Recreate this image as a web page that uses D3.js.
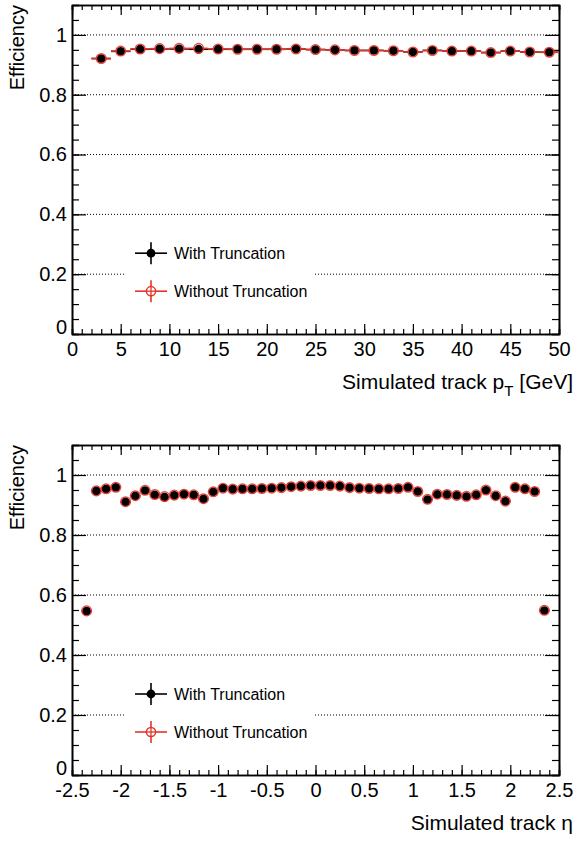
<!DOCTYPE html>
<html>
<head>
<meta charset="utf-8">
<script src="https://cdn.jsdelivr.net/npm/d3@7"></script>
<style>
  body { margin: 0; background: #fff; }
  svg { display: block; }
  text { font-family: "Liberation Sans", Arial, Helvetica, sans-serif; fill: #000; }
</style>
</head>
<body>
<svg id="chart" width="577" height="841"></svg>
<script>
// Efficiency vs simulated track pT (2 GeV bins)
const ptBins = [3, 5, 7, 9, 11, 13, 15, 17, 19, 21, 23, 25, 27, 29, 31, 33, 35, 37, 39, 41, 43, 45, 47, 49];
const ptEffWith = [0.921, 0.945, 0.952, 0.953, 0.953, 0.952, 0.952, 0.952, 0.952, 0.952, 0.953, 0.951,
                   0.950, 0.948, 0.948, 0.947, 0.943, 0.948, 0.946, 0.946, 0.941, 0.946, 0.943, 0.942];
const ptEffWithout = [0.921, 0.946, 0.953, 0.954, 0.955, 0.955, 0.953, 0.952, 0.952, 0.952, 0.953, 0.951,
                      0.950, 0.948, 0.948, 0.947, 0.943, 0.948, 0.946, 0.946, 0.941, 0.946, 0.943, 0.942];

// Efficiency vs simulated track eta (0.1 bins)
const etaBins = [-2.35, -2.25, -2.15, -2.05, -1.95, -1.85, -1.75, -1.65, -1.55, -1.45, -1.35, -1.25,
                 -1.15, -1.05, -0.95, -0.85, -0.75, -0.65, -0.55, -0.45, -0.35, -0.25, -0.15, -0.05,
                 0.05, 0.15, 0.25, 0.35, 0.45, 0.55, 0.65, 0.75, 0.85, 0.95, 1.05, 1.15,
                 1.25, 1.35, 1.45, 1.55, 1.65, 1.75, 1.85, 1.95, 2.05, 2.15, 2.25, 2.35];
const etaEffWith = [0.546, 0.947, 0.954, 0.959, 0.910, 0.930, 0.948, 0.934, 0.926, 0.932, 0.936, 0.934,
                    0.920, 0.944, 0.956, 0.953, 0.954, 0.954, 0.955, 0.956, 0.958, 0.961, 0.963, 0.965,
                    0.965, 0.965, 0.963, 0.958, 0.956, 0.955, 0.954, 0.954, 0.955, 0.959, 0.945, 0.918,
                    0.935, 0.935, 0.932, 0.928, 0.934, 0.949, 0.930, 0.912, 0.959, 0.954, 0.945, 0.548];
const etaEffWithout = [0.547, 0.947, 0.954, 0.959, 0.911, 0.931, 0.949, 0.935, 0.928, 0.933, 0.936, 0.934,
                       0.921, 0.944, 0.956, 0.953, 0.954, 0.954, 0.955, 0.956, 0.958, 0.961, 0.963, 0.965,
                       0.965, 0.965, 0.963, 0.958, 0.956, 0.955, 0.954, 0.954, 0.955, 0.959, 0.945, 0.919,
                       0.936, 0.935, 0.932, 0.929, 0.934, 0.950, 0.931, 0.913, 0.959, 0.954, 0.945, 0.549];

const effTicks = [0, 0.2, 0.4, 0.6, 0.8, 1];
const ptTicks = [0, 5, 10, 15, 20, 25, 30, 35, 40, 45, 50];
const etaTicks = [-2.5, -2, -1.5, -1, -0.5, 0, 0.5, 1, 1.5, 2, 2.5];
const legendLabels = ["With Truncation", "Without Truncation"];

const RED = "#e3352c";
const svg = d3.select("#chart");

function drawPanel(cfg) {
  const x = d3.scaleLinear().domain(cfg.xDomain).range([72, 559]);
  const y = d3.scaleLinear().domain([0, 1.1]).range([cfg.bottom, cfg.top]);
  const g = svg.append("g");

  // dotted horizontal grid
  g.append("g").selectAll("line").data(effTicks.filter(d => d > 0)).join("line")
    .attr("x1", x.range()[0]).attr("x2", x.range()[1])
    .attr("y1", d => y(d)).attr("y2", d => y(d))
    .attr("stroke", "#000").attr("stroke-width", 1).attr("stroke-dasharray", "1,2");

  // legend background hides the grid behind it
  g.append("rect").attr("x", 126).attr("y", y(0.2) - 42).attr("width", 188).attr("height", 80)
    .attr("fill", "#fff");

  // axes: inward ticks on all four sides
  const minorY = d3.range(0, 1.1001, 0.05);
  const minorX = d3.range(cfg.xDomain[0], cfg.xDomain[1] + 1e-6, cfg.minorStep);
  const fmt = d => String(d);
  const styleAxis = sel => {
    sel.selectAll(".domain").attr("stroke", "#000").attr("stroke-width", 1.6);
    sel.selectAll(".tick line").attr("stroke", "#000").attr("stroke-width", 1.2);
    sel.selectAll("text").style("font-size", "20px").attr("fill", "#000");
  };
  g.append("g").attr("transform", `translate(72,0)`)
    .call(d3.axisLeft(y).tickValues(minorY).tickSize(-7).tickFormat("")).call(styleAxis);
  g.append("g").attr("transform", `translate(72,0)`)
    .call(d3.axisLeft(y).tickValues(effTicks).tickSizeInner(-14).tickSizeOuter(0).tickPadding(5).tickFormat(fmt))
    .call(styleAxis)
    .call(a => a.selectAll(".tick text").filter(d => d === 0).attr("dy", "-0.02em"));
  g.append("g").attr("transform", `translate(559,0)`)
    .call(d3.axisRight(y).tickValues(minorY).tickSize(-7).tickFormat("")).call(styleAxis);
  g.append("g").attr("transform", `translate(559,0)`)
    .call(d3.axisRight(y).tickValues(effTicks).tickSizeInner(-14).tickSizeOuter(0).tickFormat("")).call(styleAxis);
  g.append("g").attr("transform", `translate(0,${cfg.bottom})`)
    .call(d3.axisBottom(x).tickValues(minorX).tickSize(-5).tickFormat("")).call(styleAxis);
  g.append("g").attr("transform", `translate(0,${cfg.bottom})`)
    .call(d3.axisBottom(x).tickValues(cfg.xTicks).tickSizeInner(-10).tickSizeOuter(0).tickPadding(8).tickFormat(fmt))
    .call(styleAxis);
  g.append("g").attr("transform", `translate(0,${cfg.top})`)
    .call(d3.axisTop(x).tickValues(minorX).tickSize(-5).tickFormat("")).call(styleAxis);
  g.append("g").attr("transform", `translate(0,${cfg.top})`)
    .call(d3.axisTop(x).tickValues(cfg.xTicks).tickSizeInner(-10).tickSizeOuter(0).tickFormat("")).call(styleAxis);

  // axis titles
  g.append("text").attr("transform", `translate(24,${cfg.top}) rotate(-90)`)
    .attr("text-anchor", "end").style("font-size", "20px").text("Efficiency");
  const t = g.append("text").attr("x", 573).attr("y", cfg.bottom + cfg.titleGap)
    .attr("text-anchor", "end").style("font-size", "21px");
  cfg.title(t);

  // data: horizontal bin-width bars and markers
  const series = [
    { vals: cfg.withVals, color: "#000", filled: true },
    { vals: cfg.withoutVals, color: RED, filled: false }
  ];
  series.forEach(s => {
    const pts = cfg.bins.map((b, i) => ({ b, v: s.vals[i] }));
    g.append("g").selectAll("line").data(pts).join("line")
      .attr("x1", d => x(d.b - cfg.half)).attr("x2", d => x(d.b + cfg.half))
      .attr("y1", d => y(d.v)).attr("y2", d => y(d.v))
      .attr("stroke", s.color).attr("stroke-width", 1.6);
  });
  series.forEach(s => {
    const pts = cfg.bins.map((b, i) => ({ b, v: s.vals[i] }));
    g.append("g").selectAll("circle").data(pts).join("circle")
      .attr("cx", d => x(d.b)).attr("cy", d => y(d.v))
      .attr("r", s.filled ? 4.4 : 4.8)
      .attr("fill", s.filled ? "#000" : "none")
      .attr("stroke", s.color).attr("stroke-width", s.filled ? 0 : 1.5)
      .attr("stroke-opacity", 0.9);
  });

  // legend
  const ly = [y(0.2) - 21, y(0.2) + 17];
  legendLabels.forEach((lab, i) => {
    const c = i === 0 ? "#000" : RED;
    const lg = g.append("g");
    lg.append("line").attr("x1", 135).attr("x2", 167).attr("y1", ly[i]).attr("y2", ly[i])
      .attr("stroke", c).attr("stroke-width", 1.6);
    lg.append("line").attr("x1", 151).attr("x2", 151).attr("y1", ly[i] - 11).attr("y2", ly[i] + 11)
      .attr("stroke", c).attr("stroke-width", 1.6);
    lg.append("circle").attr("cx", 151).attr("cy", ly[i]).attr("r", i === 0 ? 4.4 : 4.6)
      .attr("fill", i === 0 ? "#000" : "#fff").attr("stroke", c).attr("stroke-width", i === 0 ? 0 : 1.5);
    if (i === 1) {
      lg.append("line").attr("x1", 146).attr("x2", 156).attr("y1", ly[i]).attr("y2", ly[i])
        .attr("stroke", c).attr("stroke-width", 1.3);
      lg.append("line").attr("x1", 151).attr("x2", 151).attr("y1", ly[i] - 5).attr("y2", ly[i] + 5)
        .attr("stroke", c).attr("stroke-width", 1.3);
    }
    lg.append("text").attr("x", 174).attr("y", ly[i]).attr("dy", "0.35em")
      .style("font-size", "16px").text(lab);
  });
}

drawPanel({
  top: 5, bottom: 334, xDomain: [0, 50], xTicks: ptTicks, minorStep: 1,
  bins: ptBins, half: 1, withVals: ptEffWith, withoutVals: ptEffWithout, titleGap: 55,
  title: t => {
    t.append("tspan").text("Simulated track p");
    t.append("tspan").attr("dy", 7).style("font-size", "15px").text("T");
    t.append("tspan").attr("dy", -7).text(" [GeV]");
  }
});

drawPanel({
  top: 445, bottom: 775, xDomain: [-2.5, 2.5], xTicks: etaTicks, minorStep: 0.1,
  bins: etaBins, half: 0.05, withVals: etaEffWith, withoutVals: etaEffWithout, titleGap: 55,
  title: t => t.text("Simulated track η")
});
</script>
</body>
</html>
